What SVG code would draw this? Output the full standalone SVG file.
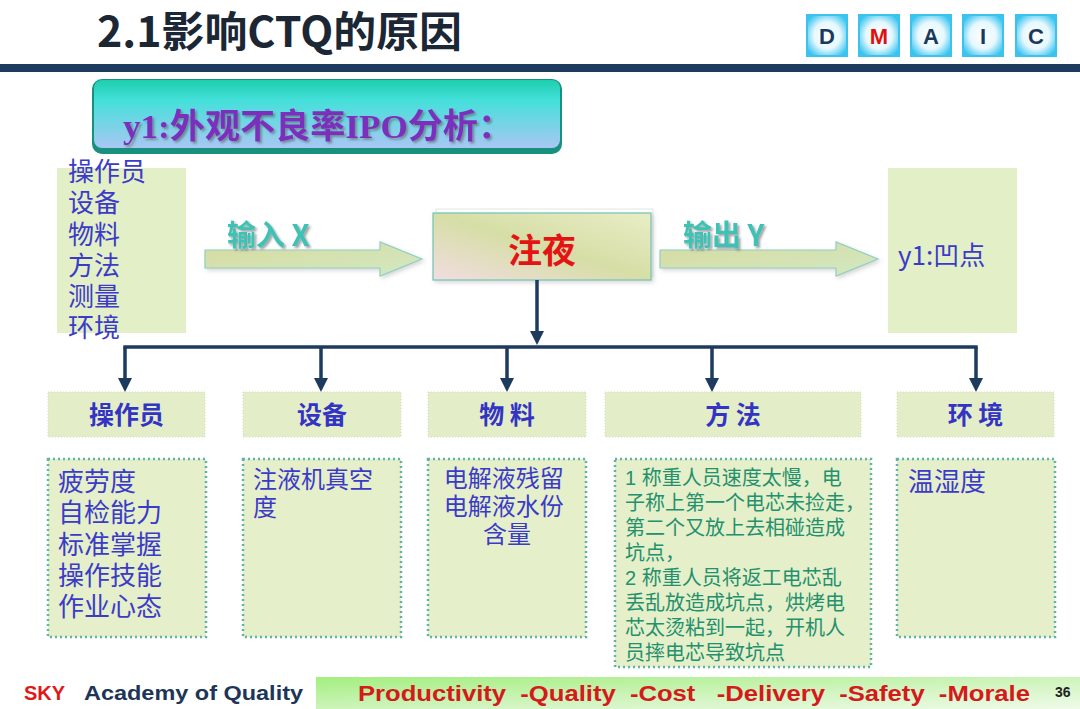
<svg xmlns="http://www.w3.org/2000/svg" width="1080" height="709" viewBox="0 0 1080 709">
<defs>
<style>
.cjk{font-family:"Noto Sans CJK SC","Liberation Sans",sans-serif}
.ml{font-family:"Liberation Sans","Noto Sans CJK SC",sans-serif}
.lat{font-family:"Liberation Sans","Noto Sans CJK SC",sans-serif}
.cat{font-size:25px;font-weight:bold;fill:#3434c4}
.det{font-size:25px;fill:#3b3bc9}
.meth{font-size:20px;fill:#23906e}
.catbox{fill:#e3eec9;stroke:#cddcb6;stroke-width:1;stroke-dasharray:1 2}
.detbox{fill:#e5efc9;stroke:#5fb3a8;stroke-width:2.5;stroke-dasharray:2 3}
.dm{fill:url(#gDm);stroke:#3bc3ee;stroke-width:2}
.dml{font-family:"Liberation Sans",sans-serif;font-weight:bold;font-size:22px;fill:#1a3a5c;text-anchor:middle}
.conn{stroke:#1c3b5e;stroke-width:3.5;fill:none}
.io{fill:url(#gArrow);stroke:#8fd0c4;stroke-width:1.2}
.iol{font-family:"Noto Sans CJK SC","Liberation Sans",sans-serif;font-weight:bold;font-size:29px;fill:#3cc2b5}
</style>
<radialGradient id="gDm" cx="0.5" cy="0.5" r="0.6">
<stop offset="0" stop-color="#ffffff"/>
<stop offset="0.55" stop-color="#e6f8fe"/>
<stop offset="1" stop-color="#38c4f0"/>
</radialGradient>
<linearGradient id="gHead" x1="0" y1="0" x2="0" y2="1">
<stop offset="0" stop-color="#1dcfae"/>
<stop offset="0.3" stop-color="#44e0da"/>
<stop offset="1" stop-color="#a9c7f3"/>
</linearGradient>
<linearGradient id="gArrow" x1="0" y1="0" x2="1" y2="1">
<stop offset="0" stop-color="#d7dba0"/>
<stop offset="1" stop-color="#d2e8c2"/>
</linearGradient>
<linearGradient id="gCenter" x1="1" y1="0" x2="0" y2="1">
<stop offset="0" stop-color="#e9edc6"/>
<stop offset="0.5" stop-color="#d6dea6"/>
<stop offset="1" stop-color="#f1dde0"/>
</linearGradient>
<linearGradient id="gFoot" x1="0" y1="0" x2="1" y2="1">
<stop offset="0" stop-color="#a4ee80"/>
<stop offset="0.6" stop-color="#d4f5c4"/>
<stop offset="1" stop-color="#eefbe8"/>
</linearGradient>
<filter id="shTxt" x="-10%" y="-20%" width="130%" height="150%">
<feDropShadow dx="2" dy="2" stdDeviation="1" flood-color="#555555" flood-opacity="0.55"/>
</filter>
<filter id="shBox" x="-5%" y="-10%" width="115%" height="130%">
<feDropShadow dx="2" dy="2" stdDeviation="2" flood-color="#888888" flood-opacity="0.35"/>
</filter>
<marker id="ah" markerUnits="userSpaceOnUse" markerWidth="14" markerHeight="14" viewBox="0 0 14 14" refX="8" refY="7" orient="auto">
<path d="M0,0 L14,7 L0,14 Z" fill="#1c3b5e"/>
</marker>
</defs>

<rect width="1080" height="709" fill="#ffffff"/>

<g id="title">
<text x="97" y="47" class="cjk" font-size="42" font-weight="bold" fill="#1b2735" textLength="365" lengthAdjust="spacingAndGlyphs">2.1影响CTQ的原因</text>
<rect x="0" y="64" width="1080" height="8" fill="#1d3b5e"/>
</g>

<g id="dmaic">
<rect class="dm" x="807" y="15" width="40" height="41"/>
<rect class="dm" x="859" y="15" width="40" height="41"/>
<rect class="dm" x="911" y="15" width="40" height="41"/>
<rect class="dm" x="963" y="15" width="40" height="41"/>
<rect class="dm" x="1016" y="15" width="40" height="41"/>
<text class="dml" x="827" y="44">D</text>
<text class="dml" x="879" y="44" style="fill:#e01010">M</text>
<text class="dml" x="931" y="44">A</text>
<text class="dml" x="983" y="44">I</text>
<text class="dml" x="1036" y="44">C</text>
</g>

<g id="header">
<rect x="92" y="79" width="470" height="75" rx="10" fill="#17917e"/>
<rect x="94" y="80" width="466" height="68" rx="8" fill="url(#gHead)"/>
<text x="123" y="138" font-family="Liberation Serif,'Noto Sans CJK SC',serif" font-size="34" font-weight="bold" fill="#7b2fbc" filter="url(#shTxt)" textLength="390" lengthAdjust="spacingAndGlyphs">y1:外观不良率IPO分析：</text>
</g>

<g id="inputs">
<rect x="57" y="168" width="129" height="165" fill="#e3efc6"/>
<text class="ml det" style="font-size:26px">
<tspan x="68" y="181">操作员</tspan>
<tspan x="68" y="212">设备</tspan>
<tspan x="68" y="244">物料</tspan>
<tspan x="68" y="275">方法</tspan>
<tspan x="68" y="306">测量</tspan>
<tspan x="68" y="337">环境</tspan>
</text>
</g>

<g id="input-arrow">
<path class="io" filter="url(#shBox)" d="M205,250 H380 V242 L422,259 L380,276 V268 H205 Z"/>
<text class="iol" x="227" y="246" filter="url(#shTxt)">输入 X</text>
</g>

<g id="process">
<rect x="436" y="209" width="217" height="67" fill="none" stroke="#dfe8e4" stroke-width="1"/>
<rect x="433" y="213" width="218" height="67" fill="url(#gCenter)" stroke="#72c4b6" stroke-width="1.2" filter="url(#shBox)"/>
<text x="542" y="263" class="cjk" font-size="34" font-weight="bold" fill="#e41414" text-anchor="middle">注夜</text>
</g>

<g id="output-arrow">
<path class="io" filter="url(#shBox)" d="M660,250 H836 V242 L878,259 L836,276 V268 H660 Z"/>
<text class="iol" x="683" y="246" filter="url(#shTxt)">输出 Y</text>
</g>

<g id="output">
<rect x="888" y="168" width="129" height="165" fill="#e3efc6"/>
<text x="898" y="265" class="cjk" font-size="26" fill="#3b3bc9">y1:凹点</text>
</g>

<g id="connectors">
<line class="conn" x1="537" y1="280" x2="537" y2="339" marker-end="url(#ah)"/>
<line class="conn" x1="123.3" y1="347" x2="977.7" y2="347"/>
<line class="conn" x1="125" y1="347" x2="125" y2="386" marker-end="url(#ah)"/>
<line class="conn" x1="321" y1="347" x2="321" y2="386" marker-end="url(#ah)"/>
<line class="conn" x1="507" y1="347" x2="507" y2="386" marker-end="url(#ah)"/>
<line class="conn" x1="712" y1="347" x2="712" y2="386" marker-end="url(#ah)"/>
<line class="conn" x1="976" y1="347" x2="976" y2="386" marker-end="url(#ah)"/>
</g>

<g id="cat-operator">
<rect class="catbox" x="48" y="392" width="157" height="45"/>
<text class="cjk cat" x="126.5" y="424" text-anchor="middle">操作员</text>
</g>
<g id="cat-equipment">
<rect class="catbox" x="243" y="392" width="158" height="45"/>
<text class="cjk cat" x="322" y="424" text-anchor="middle">设备</text>
</g>
<g id="cat-material">
<rect class="catbox" x="428" y="392" width="158" height="45"/>
<text class="cjk cat" x="507" y="424" text-anchor="middle" xml:space="preserve">物 料</text>
</g>
<g id="cat-method">
<rect class="catbox" x="605" y="392" width="256" height="45"/>
<text class="cjk cat" x="733" y="424" text-anchor="middle" xml:space="preserve">方 法</text>
</g>
<g id="cat-environment">
<rect class="catbox" x="897" y="392" width="157" height="45"/>
<text class="cjk cat" x="975.5" y="424" text-anchor="middle" xml:space="preserve">环 境</text>
</g>

<g id="det-operator">
<rect class="detbox" x="48" y="459" width="158" height="178"/>
<text class="ml det" style="font-size:26px">
<tspan x="58" y="491">疲劳度</tspan>
<tspan x="58" y="522">自检能力</tspan>
<tspan x="58" y="554">标准掌握</tspan>
<tspan x="58" y="585">操作技能</tspan>
<tspan x="58" y="616">作业心态</tspan>
</text>
</g>
<g id="det-equipment">
<rect class="detbox" x="243" y="459" width="158" height="178"/>
<text class="ml det" style="font-size:24px">
<tspan x="253" y="488">注液机真空</tspan>
<tspan x="253" y="516">度</tspan>
</text>
</g>
<g id="det-material">
<rect class="detbox" x="428" y="459" width="158" height="178"/>
<text class="ml det" style="font-size:24px" text-anchor="middle">
<tspan x="507" y="487">电解液残留</tspan>
<tspan x="507" y="515">电解液水份</tspan>
<tspan x="507" y="543">含量</tspan>
</text>
</g>
<g id="det-method">
<rect class="detbox" x="615" y="459" width="256" height="208"/>
<text class="ml meth" xml:space="preserve">
<tspan x="625" y="485">1 称重人员速度太慢，电</tspan>
<tspan x="625" y="510">子称上第一个电芯未捡走，</tspan>
<tspan x="625" y="535">第二个又放上去相碰造成</tspan>
<tspan x="625" y="560">坑点，</tspan>
<tspan x="625" y="585">2 称重人员将返工电芯乱</tspan>
<tspan x="625" y="610">丢乱放造成坑点，烘烤电</tspan>
<tspan x="625" y="635">芯太烫粘到一起，开机人</tspan>
<tspan x="625" y="660">员摔电芯导致坑点</tspan>
</text>
</g>
<g id="det-environment">
<rect class="detbox" x="897" y="459" width="158" height="178"/>
<text class="cjk det" x="908" y="491" style="font-size:26px">温湿度</text>
</g>

<g id="footer">
<rect x="316" y="677" width="764" height="32" fill="url(#gFoot)"/>
<text x="24" y="700" class="lat" font-size="20" font-weight="bold" fill="#e01818">SKY</text>
<text x="84" y="700" class="lat" font-size="20" font-weight="bold" fill="#1d3558" textLength="219" lengthAdjust="spacingAndGlyphs">Academy of Quality</text>
<text x="358" y="701" class="lat" font-size="22" font-weight="bold" fill="#d41a1a" textLength="672" lengthAdjust="spacingAndGlyphs" xml:space="preserve">Productivity  -Quality  -Cost   -Delivery  -Safety  -Morale</text>
<text x="1055" y="697" class="lat" font-size="14" font-weight="bold" fill="#222222">36</text>
</g>
</svg>
